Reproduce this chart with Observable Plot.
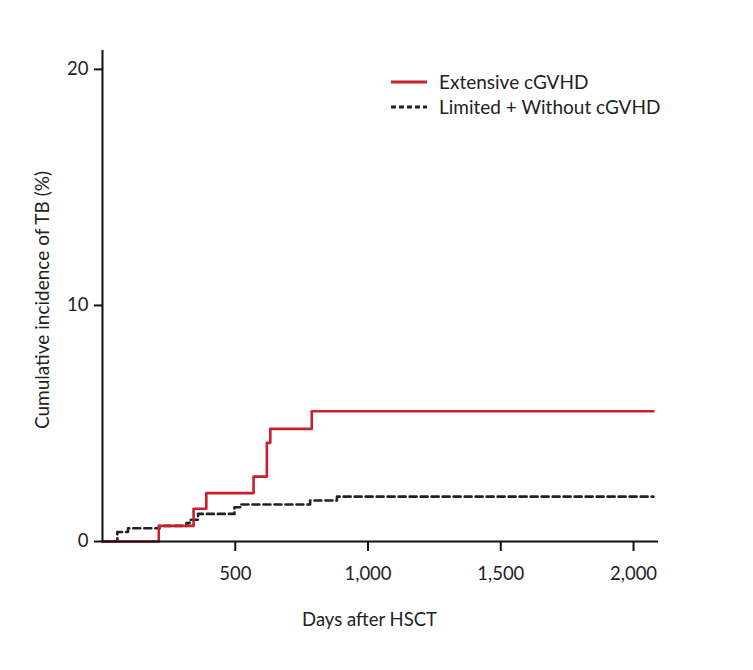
<!DOCTYPE html>
<html>
<head>
<meta charset="utf-8">
<script src="https://cdn.jsdelivr.net/npm/d3@7"></script>
<script src="https://cdn.jsdelivr.net/npm/@observablehq/plot@0.6"></script>
<style>
  html, body { margin: 0; padding: 0; background: #fff; }
  #wrap { position: relative; width: 753px; height: 670px; font-family: Lato, "Open Sans", sans-serif; }
  #legend { position: absolute; left: 390px; top: 69px; font-size: 19px; color: #222; line-height: 25px; }
  #legend .row { display: flex; align-items: center; }
  #legend svg { margin-right: 11px; }
</style>
</head>
<body>
<div id="wrap"></div>
<script>
// Series data (days after HSCT, cumulative incidence %)
const seriesNames = ["Extensive cGVHD", "Limited + Without cGVHD"];
const extDays = [0, 212, 343, 391, 569, 619, 632, 788, 2075];
const extVals = [0, 0.66, 1.39, 2.05, 2.75, 4.18, 4.77, 5.52, 5.52];
const limDays = [0, 56, 96, 215, 316, 328, 360, 497, 520, 782, 883, 2075];
const limVals = [0, 0.40, 0.56, 0.66, 0.78, 0.92, 1.17, 1.45, 1.57, 1.74, 1.90, 1.90];
const xTicks = [500, 1000, 1500, 2000];
const yTicks = [0, 10, 20];
const xLabel = "Days after HSCT";
const yLabel = "Cumulative incidence of TB (%)";
const colors = ["#c8202f", "#222222"];

const ext = extDays.map((d, i) => ({day: d, val: extVals[i]}));
const lim = limDays.map((d, i) => ({day: d, val: limVals[i]}));

const chart = Plot.plot({
  width: 753,
  height: 670,
  marginLeft: 102,
  marginRight: 95,
  marginTop: 50,
  marginBottom: 129,
  style: {fontFamily: "Lato, 'Open Sans', sans-serif", fontSize: "18.5px", color: "#222", background: "#fff"},
  x: {domain: [0, 2094]},
  y: {domain: [0, 20.8]},
  marks: [
    Plot.line(lim, {x: "day", y: "val", curve: "step-after", stroke: colors[1], strokeWidth: 2.6, strokeDasharray: "7,4"}),
    Plot.line(ext, {x: "day", y: "val", curve: "step-after", stroke: colors[0], strokeWidth: 2.6}),
    Plot.ruleY([0], {stroke: "#111", strokeWidth: 2}),
    Plot.ruleX([0], {stroke: "#111", strokeWidth: 2}),
    Plot.axisX(xTicks, {tickSize: 10, tickPadding: 15, strokeWidth: 2, stroke: "#111", fontSize: 18.5, label: null}),
    Plot.axisY(yTicks, {tickSize: 8, tickPadding: 6, strokeWidth: 2, stroke: "#111", fontSize: 18.5, label: null}),
    Plot.text([xLabel], {text: d => d, frameAnchor: "bottom", textAnchor: "middle", lineAnchor: "middle", dx: -11, dy: 79, fontSize: 18.5, fill: "#222"}),
    Plot.text([yLabel], {text: d => d, frameAnchor: "left", textAnchor: "middle", lineAnchor: "middle", rotate: -90, dx: -60, dy: 4, fontSize: 19, fill: "#222"})
  ]
});

const wrap = document.getElementById("wrap");
wrap.appendChild(chart);

const legend = document.createElement("div");
legend.id = "legend";
seriesNames.forEach((name, i) => {
  const row = document.createElement("div");
  row.className = "row";
  const dash = i === 1 ? 'stroke-dasharray="5,3"' : '';
  row.innerHTML = `<svg width="38" height="6"><line x1="1" y1="3" x2="37" y2="3" stroke="${colors[i]}" stroke-width="2.8" ${dash}/></svg><span>${name}</span>`;
  legend.appendChild(row);
});
wrap.appendChild(legend);
</script>
</body>
</html>
